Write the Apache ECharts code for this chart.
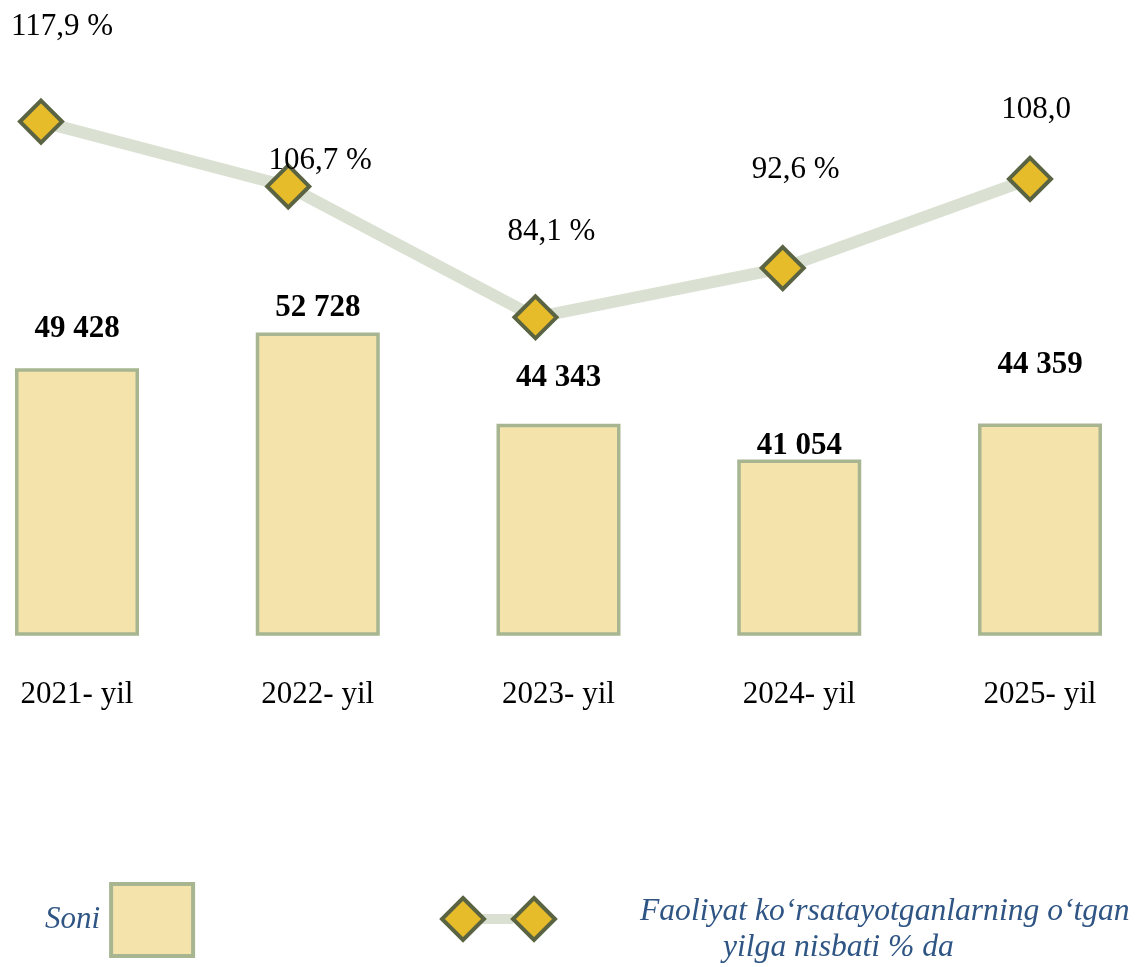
<!DOCTYPE html>
<html>
<head>
<meta charset="utf-8">
<script src="https://cdn.jsdelivr.net/npm/echarts@6/dist/echarts.min.js"></script>
<style>
html,body{margin:0;padding:0;background:#fff;}
#main{width:1136px;height:967px;}
</style>
</head>
<body>
<div id="main"></div>
<script>
// chart data
var years = ['2021- yil', '2022- yil', '2023- yil', '2024- yil', '2025- yil'];
var soni = [49428, 52728, 44343, 41054, 44359];
var nisbat = [117.9, 106.7, 84.1, 92.6, 108.0];
var nisbatLabels = ['117,9 %', '106,7 %', '84,1 %', '92,6 %', '108,0'];

var barName = 'Soni';
var lineName = 'Faoliyat ko‘rsatayotganlarning o‘tgan yilga nisbati % da';

// label nudges so the texts sit where the original has them
var barLabelShift = [[0, -24], [0, -9], [0, -30], [0, 2], [0, -43]];
var lineLabelShift = [[21, -95], [32, -26], [16, -85], [13, -98], [6, -69]];

var serif = '"Liberation Serif", "Times New Roman", serif';
var blue = '#2F5584';

function spaced(v) {
    return String(v).replace(/\B(?=(\d{3})+(?!\d))/g, ' ');
}

var myChart = echarts.init(document.getElementById('main'));

myChart.setOption({
    animation: false,
    grid: [
        {left: 77, right: 96, top: 0, bottom: 333, outerBoundsMode: 'none'},
        {left: 41, right: 106, top: 0, bottom: 333, outerBoundsMode: 'none'}
    ],
    xAxis: [
        {
            type: 'category', gridIndex: 0, data: years, boundaryGap: false,
            axisLine: {show: false}, axisTick: {show: false},
            axisLabel: {fontFamily: serif, fontSize: 31, color: '#000', margin: 45}
        },
        {type: 'category', gridIndex: 1, data: years, boundaryGap: false, show: false}
    ],
    yAxis: [
        {type: 'value', gridIndex: 0, min: 25000, max: 83300, show: false},
        {type: 'value', gridIndex: 1, min: 29.4, max: 138.9, show: false}
    ],
    legend: [
        {
            data: [barName], left: 45, top: 882, padding: 0, align: 'right',
            selectedMode: false, icon: 'rect', itemWidth: 82, itemHeight: 72,
            itemStyle: {color: '#F5E3AC', borderColor: '#A7B690', borderWidth: 4},
            textStyle: {fontFamily: serif, fontStyle: 'italic', fontSize: 31, color: blue, padding: [0, 6, 0, 0]}
        },
        {
            data: [lineName], left: 634, top: 896, padding: 0,
            selectedMode: false, icon: 'rect', itemWidth: 0, itemHeight: 14,
            itemStyle: {opacity: 0},
            formatter: function () {
                return '{a|Faoliyat ko‘rsatayotganlarning o‘tgan}\n{b|yilga nisbati % da}';
            },
            textStyle: {
                rich: {
                    a: {fontFamily: serif, fontStyle: 'italic', fontSize: 31.6, color: blue, lineHeight: 36},
                    b: {fontFamily: serif, fontStyle: 'italic', fontSize: 31.6, color: blue, lineHeight: 36, padding: [0, 0, 0, 83]}
                }
            }
        }
    ],
    graphic: [
        {
            type: 'group', left: 440, top: 896,
            children: [
                {type: 'rect', shape: {x: 40, y: 17, width: 32, height: 10}, style: {fill: '#DAE1D2'}},
                {type: 'polygon', shape: {points: [[22, 1], [43, 22], [22, 43], [1, 22]]},
                    style: {fill: '#E6BC2B', stroke: '#5A6443', lineWidth: 4}},
                {type: 'polygon', shape: {points: [[93, 1], [114, 22], [93, 43], [72, 22]]},
                    style: {fill: '#E6BC2B', stroke: '#5A6443', lineWidth: 4}}
            ]
        }
    ],
    series: [
        {
            name: barName,
            type: 'bar',
            xAxisIndex: 0, yAxisIndex: 0,
            barWidth: 124,
            itemStyle: {color: '#F5E3AC', borderColor: '#A7B690', borderWidth: 3.5},
            label: {
                show: true, position: 'top', distance: 0,
                fontFamily: serif, fontWeight: 'bold', fontSize: 31, color: '#000',
                formatter: function (p) { return spaced(p.value); }
            },
            data: soni.map(function (v, i) {
                return {value: v, label: {offset: barLabelShift[i]}};
            })
        },
        {
            name: lineName,
            type: 'line',
            xAxisIndex: 1, yAxisIndex: 1,
            z: 5,
            symbol: 'diamond', symbolSize: 42,
            lineStyle: {color: '#DAE1D2', width: 12},
            itemStyle: {color: '#E6BC2B', borderColor: '#5A6443', borderWidth: 4},
            label: {
                show: true, position: 'inside',
                fontFamily: serif, fontSize: 31, color: '#000',
                formatter: function (p) { return nisbatLabels[p.dataIndex]; }
            },
            data: nisbat.map(function (v, i) {
                return {value: v, label: {offset: lineLabelShift[i]}};
            })
        }
    ]
});
</script>
</body>
</html>
